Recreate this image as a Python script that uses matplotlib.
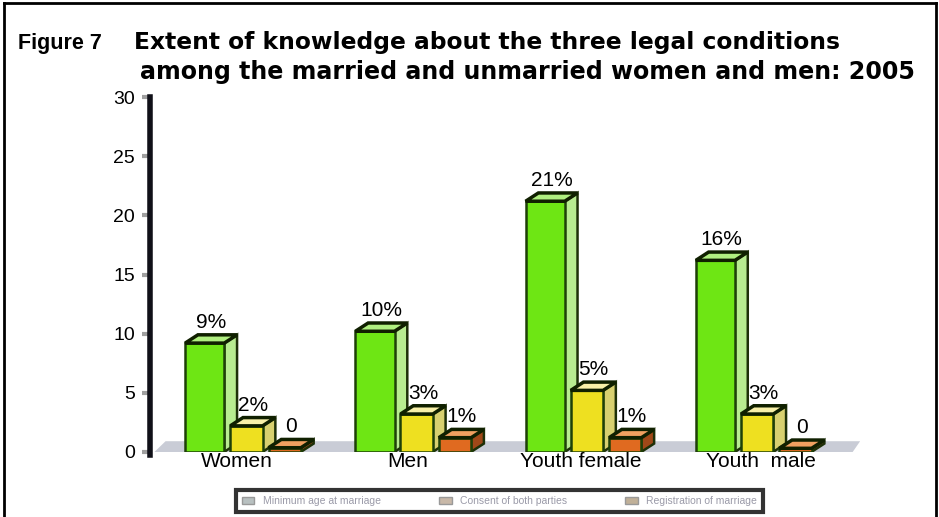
import matplotlib.pyplot as plt
from matplotlib.patches import Polygon, Rectangle
from matplotlib.lines import Line2D

# data
groups = ["Women", "Men", "Youth female", "Youth  male"]
cond_a = [9.2, 10.2, 21.2, 16.2]
cond_b = [2.2, 3.2, 5.2, 3.2]
cond_c = [0.35, 1.2, 1.2, 0.3]
labels_a = ["9%", "10%", "21%", "16%"]
labels_b = ["2%", "3%", "5%", "3%"]
labels_c = ["0", "1%", "1%", "0"]
legend_names = ["Minimum age at marriage", "Consent of both parties", "Registration of marriage"]

plt.rcParams['font.family'] = ['Liberation Sans', 'DejaVu Sans']

fig = plt.figure(figsize=(9.39, 5.17), dpi=100)
ax = fig.add_axes([0.16, 0.126, 0.756, 0.686])

# (values, labels, offset, width, front, top, side)
series = [
    (cond_a, labels_a, -0.17, 0.23, "#6ee614", "#b0f080", "#b8ec90"),
    (cond_b, labels_b, 0.075, 0.19, "#eee020", "#f8f0a8", "#d8d070"),
    (cond_c, labels_c, 0.30, 0.19, "#e06a20", "#f0a060", "#a04818"),
]
dx, dy = 0.075, 0.7

# floor
ax.add_patch(Polygon([(-0.49, -0.35), (3.62, -0.35), (3.68, 0.9), (-0.40, 0.9)],
                     closed=True, facecolor="#c9ccd6", edgecolor="none", zorder=1))
ax.plot([-0.49, 3.62], [-0.35, -0.35], color="#202030", lw=2, ls=(0, (6, 3)), zorder=2)

for vals, labs, off, w, face, top, side in series:
    for i, v in enumerate(vals):
        x0 = i + off - w / 2
        ax.add_patch(Polygon([(x0 + w, 0), (x0 + w + dx, dy), (x0 + w + dx, v + dy), (x0 + w, v)],
                             closed=True, facecolor=side, edgecolor="#1e3008", lw=1.8, zorder=3))
        ax.add_patch(Rectangle((x0, 0), w, v, facecolor=face, edgecolor="#1e4008", lw=1.8, zorder=3))
        ax.add_patch(Polygon([(x0, v), (x0 + dx, v + dy), (x0 + w + dx, v + dy), (x0 + w, v)],
                             closed=True, facecolor=top, edgecolor="#102000", lw=2.5, zorder=4))
        ax.text(i + off + dx / 2, v + dy + 0.25, labs[i], ha="center", va="bottom", fontsize=15, zorder=5)

ax.set_xlim(-0.49, 3.68)
ax.set_ylim(0, 30)
ax.set_xticks([0.02, 1.02, 2.04, 3.1])
ax.set_xticklabels(groups, fontsize=15)
ax.set_yticks(range(0, 31, 5))
ax.tick_params(axis="y", labelsize=14, length=6, width=3, color="#a0a0a0", pad=5)
ax.tick_params(axis="x", length=0, pad=0)
for s in ["top", "right", "bottom"]:
    ax.spines[s].set_visible(False)
ax.spines["left"].set_linewidth(4)
ax.spines["left"].set_color("#101018")
ax.spines["left"].set_bounds(-0.3, 30)
ax.patch.set_alpha(0)

# title
fig.text(0.019, 0.905, "Figure 7", fontsize=15.5, fontweight="bold")
fig.text(0.143, 0.905, "Extent of knowledge about the three legal conditions",
         fontsize=16.8, fontweight="bold", family="DejaVu Sans")
fig.text(0.149, 0.848, "among the married and unmarried women and men: 2005",
         fontsize=17.1, fontweight="bold", family="DejaVu Sans")

# legend box
handles = [Rectangle((0, 0), 1, 1, facecolor=c, edgecolor="#999999") for c in ["#b8c0c0", "#c8b8a8", "#c0b098"]]
leg = fig.legend(handles, legend_names, loc="center", bbox_to_anchor=(0.532, 0.031), ncol=3,
                 fontsize=7.5, frameon=True, handlelength=1.2, columnspacing=5.6, borderpad=0.55)
for t in leg.get_texts():
    t.set_color("#9a9aa8")
leg.get_frame().set_edgecolor("black")
leg.get_frame().set_linewidth(3)
leg.get_frame().set_boxstyle("square", pad=0)

# page border
for xs, ys in [([0.004, 0.004], [0, 0.995]), ([0.004, 0.997], [0.995, 0.995]), ([0.997, 0.997], [0, 0.995])]:
    fig.add_artist(Line2D(xs, ys, color="black", lw=2, transform=fig.transFigure))

fig.savefig("out.png", dpi=100)
